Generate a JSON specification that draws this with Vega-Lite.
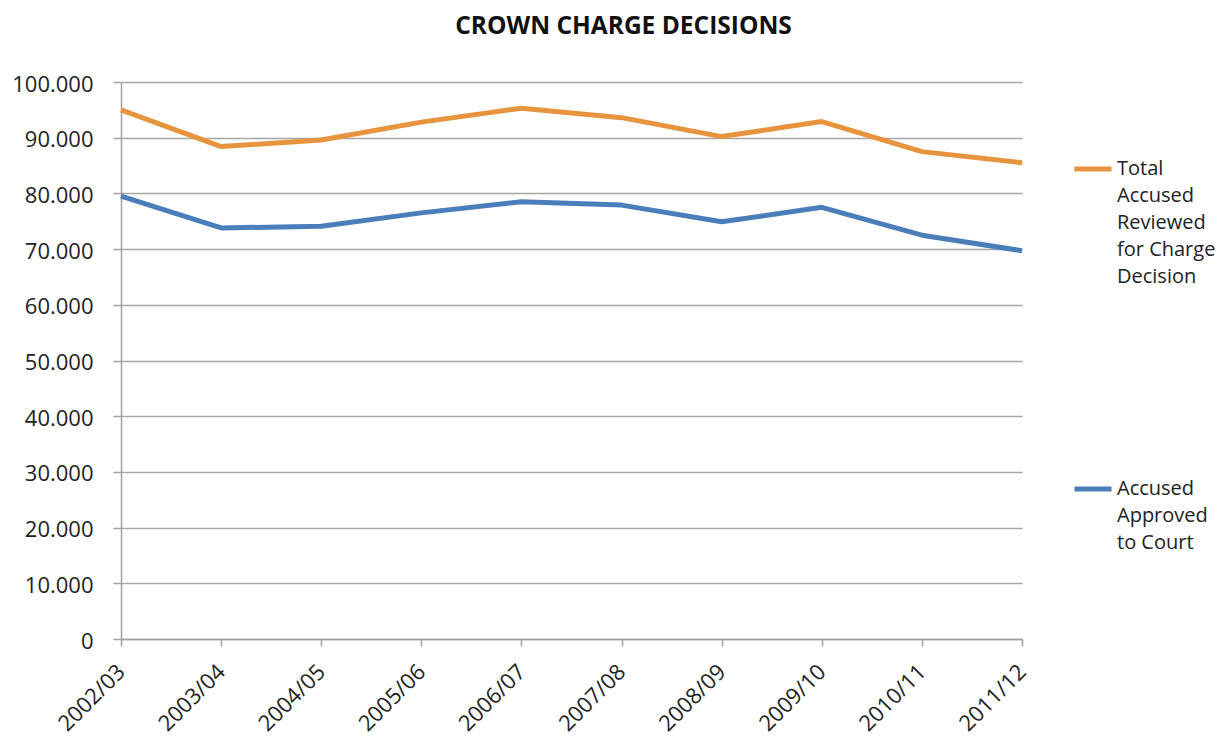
{
  "$schema": "https://vega.github.io/schema/vega-lite/v6.json",
  "width": 901,
  "height": 557,
  "autosize": "none",
  "padding": {"left": 121, "top": 82, "right": 195, "bottom": 101},
  "background": "white",
  "title": {
    "text": "CROWN CHARGE DECISIONS",
    "font": "Open Sans",
    "fontSize": 24.5,
    "fontWeight": "bold",
    "color": "#111111",
    "anchor": "middle",
    "dx": 52,
    "offset": 34
  },
  "data": {
    "values": [
      {"period": "2002/03", "series": "Total Accused Reviewed for Charge Decision", "value": 95000},
      {"period": "2003/04", "series": "Total Accused Reviewed for Charge Decision", "value": 88400},
      {"period": "2004/05", "series": "Total Accused Reviewed for Charge Decision", "value": 89600},
      {"period": "2005/06", "series": "Total Accused Reviewed for Charge Decision", "value": 92800},
      {"period": "2006/07", "series": "Total Accused Reviewed for Charge Decision", "value": 95300},
      {"period": "2007/08", "series": "Total Accused Reviewed for Charge Decision", "value": 93600},
      {"period": "2008/09", "series": "Total Accused Reviewed for Charge Decision", "value": 90200},
      {"period": "2009/10", "series": "Total Accused Reviewed for Charge Decision", "value": 92900},
      {"period": "2010/11", "series": "Total Accused Reviewed for Charge Decision", "value": 87500},
      {"period": "2011/12", "series": "Total Accused Reviewed for Charge Decision", "value": 85500},
      {"period": "2002/03", "series": "Accused Approved to Court", "value": 79500},
      {"period": "2003/04", "series": "Accused Approved to Court", "value": 73800},
      {"period": "2004/05", "series": "Accused Approved to Court", "value": 74100},
      {"period": "2005/06", "series": "Accused Approved to Court", "value": 76500},
      {"period": "2006/07", "series": "Accused Approved to Court", "value": 78500},
      {"period": "2007/08", "series": "Accused Approved to Court", "value": 77900},
      {"period": "2008/09", "series": "Accused Approved to Court", "value": 74900},
      {"period": "2009/10", "series": "Accused Approved to Court", "value": 77500},
      {"period": "2010/11", "series": "Accused Approved to Court", "value": 72500},
      {"period": "2011/12", "series": "Accused Approved to Court", "value": 69700}
    ]
  },
  "mark": {"type": "line", "strokeWidth": 5, "strokeJoin": "round"},
  "encoding": {
    "x": {
      "field": "period",
      "type": "ordinal",
      "scale": {"type": "point", "padding": 0},
      "axis": {
        "title": null,
        "grid": false,
        "domainColor": "#a0a0a0",
        "domainWidth": 1.5,
        "tickColor": "#a0a0a0",
        "tickWidth": 1.5,
        "tickSize": 7,
        "labelAngle": -45,
        "labelAlign": "right",
        "labelBaseline": "middle",
        "labelFont": "Open Sans",
        "labelFontSize": 22,
        "labelColor": "#222222",
        "labelPadding": 22
      }
    },
    "y": {
      "field": "value",
      "type": "quantitative",
      "scale": {"domain": [0, 100000], "nice": false},
      "axis": {
        "title": null,
        "values": [0, 10000, 20000, 30000, 40000, 50000, 60000, 70000, 80000, 90000, 100000],
        "labelExpr": "replace(format(datum.value, ','), ',', '.')",
        "gridColor": "#a6a6a6",
        "gridWidth": 1.5,
        "domainColor": "#a0a0a0",
        "domainWidth": 1.5,
        "tickColor": "#a0a0a0",
        "tickWidth": 1.5,
        "tickSize": 8,
        "labelPadding": 20,
        "labelOffset": 2,
        "labelFont": "Open Sans",
        "labelFontSize": 22,
        "labelColor": "#222222"
      }
    },
    "color": {
      "field": "series",
      "type": "nominal",
      "scale": {
        "domain": ["Total Accused Reviewed for Charge Decision", "Accused Approved to Court"],
        "range": ["#E8943E", "#4A7EBB"]
      },
      "legend": {
        "title": null,
        "orient": "none",
        "legendX": 951,
        "legendY": 66,
        "symbolType": "stroke",
        "symbolSize": 1369,
        "symbolStrokeWidth": 5,
        "labelFont": "Open Sans",
        "labelFontSize": 20,
        "labelColor": "#222222",
        "labelLimit": 300,
        "labelOffset": 3,
        "labelBaseline": "top",
        "labelExpr": "datum.label == 'Accused Approved to Court' ? ['Accused', 'Approved', 'to Court'] : ['Total', 'Accused', 'Reviewed', 'for Charge', 'Decision']",
        "rowPadding": 181,
        "encode": {"labels": {"update": {"dy": {"value": -10}, "lineHeight": {"value": 27}}}}
      }
    }
  },
  "config": {"view": {"stroke": null}}
}
